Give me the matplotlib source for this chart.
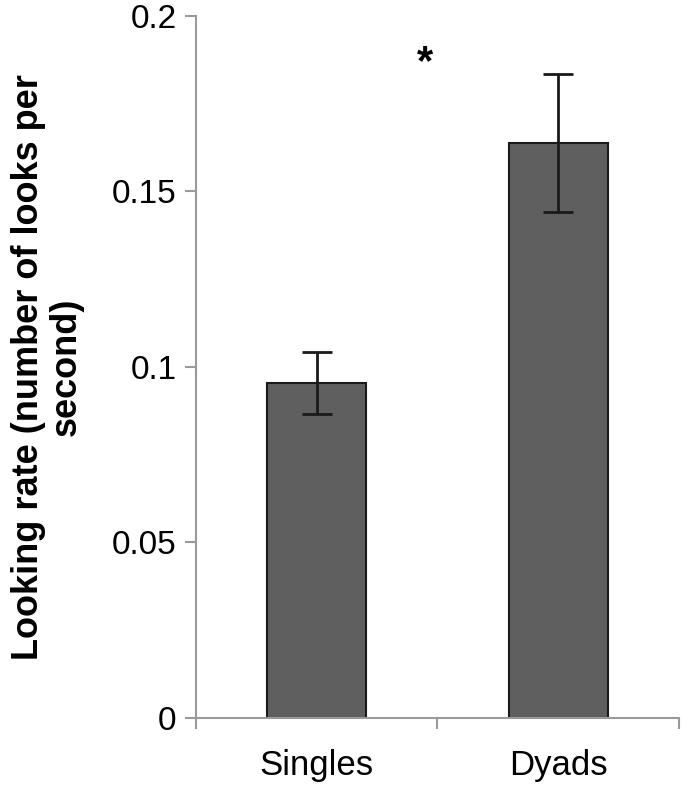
import matplotlib.pyplot as plt

plt.rcParams['font.family'] = ['Liberation Sans', 'DejaVu Sans']

# data
groups = ['Singles', 'Dyads']
rate = [0.0954, 0.1638]
err = [0.0088, 0.0197]
y_ticks = [0, 0.05, 0.1, 0.15, 0.2]
y_labels = ['0', '0.05', '0.1', '0.15', '0.2']

fig = plt.figure(figsize=(6.85, 7.88), dpi=100)
ax = fig.add_axes([0.286, 0.0888, 0.705, 0.891])

x = range(len(groups))
ax.bar(x, rate, width=0.41, color='#5f5f5f', edgecolor='#1a1a1a', linewidth=1.5,
       yerr=err, capsize=11,
       error_kw=dict(ecolor='#1a1a1a', elinewidth=2, capthick=2))

# significance marker
ax.text(0.45, 0.1865, '*', ha='center', va='center', fontsize=30, fontweight='bold')

ax.set_xlim(-0.5, 1.5)
ax.set_ylim(0, 0.2)
ax.set_yticks(y_ticks)
ax.set_yticklabels(y_labels)
ax.set_xticks([-0.5, 0.5, 1.5])
ax.set_xticklabels([])
ax.set_xticks(list(x), minor=True)
ax.set_xticklabels(groups, minor=True)
ax.tick_params(axis='x', which='minor', length=0, pad=22, labelsize=25)
ax.tick_params(axis='x', which='major', length=8, width=1.5, color='#9a9a9a', direction='out')
ax.tick_params(axis='y', length=8, width=1.5, color='#9a9a9a', pad=6, labelsize=24)

for s in ['top', 'right']:
    ax.spines[s].set_visible(False)
for s in ['left', 'bottom']:
    ax.spines[s].set_color('#9a9a9a')
    ax.spines[s].set_linewidth(1.5)

ax.set_ylabel('Looking rate (number of looks per\nsecond)', fontsize=26,
              fontweight='bold', labelpad=20, linespacing=1.1)

fig.savefig('out.png', dpi=100)
